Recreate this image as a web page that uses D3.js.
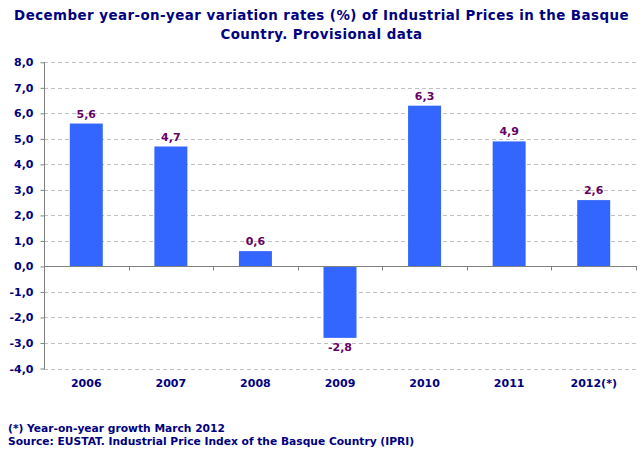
<!DOCTYPE html>
<html>
<head>
<meta charset="utf-8">
<script src="https://cdn.jsdelivr.net/npm/d3@7"></script>
<style>
  body { margin: 0; background: #fff; }
  text { font-family: Verdana, "DejaVu Sans", sans-serif; font-weight: bold; }
</style>
</head>
<body>
<div id="chart"></div>
<script>
// chart data
const years = ["2006", "2007", "2008", "2009", "2010", "2011", "2012(*)"];
const rates = [5.6, 4.7, 0.6, -2.8, 6.3, 4.9, 2.6];
const yTicks = [-4, -3, -2, -1, 0, 1, 2, 3, 4, 5, 6, 7, 8];
const titleLines = [
    "December year-on-year variation rates (%) of Industrial Prices in the Basque",
    "Country. Provisional data"
];
const notes = [
    "(*) Year-on-year growth March 2012",
    "Source: EUSTAT. Industrial Price Index of the Basque Country (IPRI)"
];

const width = 643, height = 464;
const plotLeft = 44, plotRight = 636, plotTop = 62.3, plotBottom = 368.5;

const svg = d3.select("#chart")
    .append("svg")
    .attr("width", width)
    .attr("height", height);

const x = d3.scaleBand()
    .domain(years)
    .range([plotLeft, plotRight])
    .padding(0);

const y = d3.scaleLinear()
    .domain([-4, 8])
    .range([plotBottom, plotTop]);

// decimal comma, plain hyphen for negatives
const fmt = v => d3.format(".1f")(v).replace(".", ",").replace("\u2212", "-");
const barW = x.bandwidth() * 0.39;

// title
svg.append("g").selectAll("text")
    .data(titleLines)
    .enter().append("text")
    .attr("x", width / 2)
    .attr("y", (d, i) => 20 + i * 19)
    .attr("text-anchor", "middle")
    .attr("fill", "#000080")
    .style("font-size", "13.4px")
    .style("letter-spacing", "0.45px")
    .text(d => d);

// dashed grid lines
svg.append("g").selectAll("line")
    .data(yTicks.filter(d => d !== 0))
    .enter().append("line")
    .attr("x1", plotLeft)
    .attr("x2", plotRight)
    .attr("y1", d => Math.round(y(d)) + 0.5)
    .attr("y2", d => Math.round(y(d)) + 0.5)
    .attr("stroke", "#c0c0c0")
    .attr("stroke-dasharray", "4,3");

// y axis
const yAxis = svg.append("g")
    .attr("transform", `translate(${plotLeft + 0.5},0)`)
    .call(d3.axisLeft(y).tickValues(yTicks).tickSize(4).tickPadding(7).tickFormat(fmt));
yAxis.select(".domain").attr("stroke", "#808080").attr("d", `M0,${Math.round(y(8))}V${Math.round(y(-4)) + 0.5}`);
yAxis.selectAll(".tick line").attr("stroke", "#808080");
yAxis.selectAll(".tick text")
    .attr("fill", "#000080")
    .style("font-size", "11px")
    .style("font-family", "Verdana, 'DejaVu Sans', sans-serif");

// bars
svg.append("g").selectAll("rect")
    .data(rates)
    .enter().append("rect")
    .attr("x", (d, i) => x(years[i]) + (x.bandwidth() - barW) / 2)
    .attr("y", d => y(Math.max(0, d)))
    .attr("width", barW)
    .attr("height", d => Math.abs(y(d) - y(0)))
    .attr("fill", "#3366ff");

// zero line with category ticks
const zy = Math.round(y(0)) + 0.5;
svg.append("line")
    .attr("x1", plotLeft)
    .attr("x2", plotRight + 1)
    .attr("y1", zy)
    .attr("y2", zy)
    .attr("stroke", "#808080");

svg.append("g").selectAll("line")
    .data(years.slice(1).concat(["end"]))
    .enter().append("line")
    .attr("x1", d => Math.round(d === "end" ? plotRight : x(d)) + 0.5)
    .attr("x2", d => Math.round(d === "end" ? plotRight : x(d)) + 0.5)
    .attr("y1", zy)
    .attr("y2", zy + 4)
    .attr("stroke", "#808080");

// value labels
svg.append("g").selectAll("text")
    .data(rates)
    .enter().append("text")
    .attr("x", (d, i) => x(years[i]) + x.bandwidth() / 2)
    .attr("y", d => d >= 0 ? y(d) - 6 : y(d) + 13)
    .attr("text-anchor", "middle")
    .attr("fill", "#660066")
    .style("font-size", "11px")
    .text(d => fmt(d));

// category labels
svg.append("g").selectAll("text")
    .data(years)
    .enter().append("text")
    .attr("x", d => x(d) + x.bandwidth() / 2)
    .attr("y", 387)
    .attr("text-anchor", "middle")
    .attr("fill", "#000080")
    .style("font-size", "11px")
    .text(d => d);

// footnotes
svg.append("g").selectAll("text")
    .data(notes)
    .enter().append("text")
    .attr("x", 8)
    .attr("y", (d, i) => 432 + i * 13)
    .attr("fill", "#000080")
    .style("font-size", "10.7px")
    .text(d => d);
</script>
</body>
</html>
